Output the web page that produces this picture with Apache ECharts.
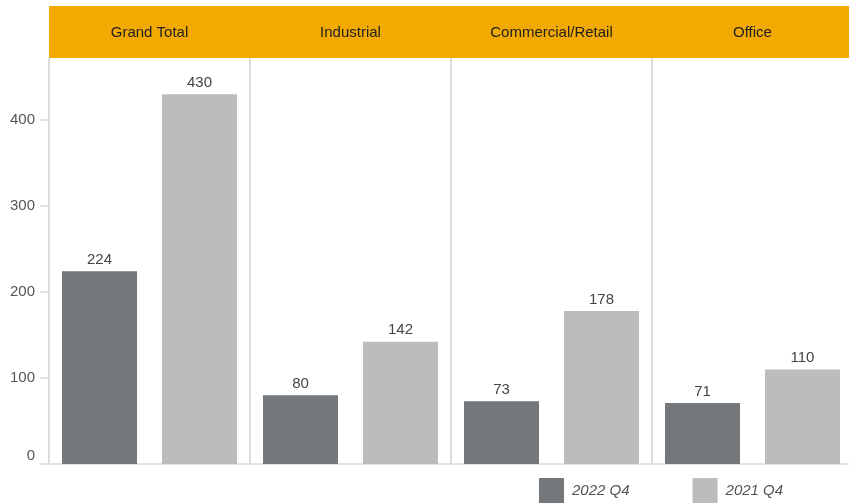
<!DOCTYPE html>
<html>
<head>
<meta charset="utf-8">
<script src="https://cdn.jsdelivr.net/npm/echarts@6/dist/echarts.min.js"></script>
<style>
html,body{margin:0;padding:0;background:#fff;}
#c{width:849px;height:503px;}
</style>
</head>
<body>
<div id="c"></div>
<script>
const categories = ['Grand Total', 'Industrial', 'Commercial/Retail', 'Office'];
const seriesNames = ['2022 Q4', '2021 Q4'];
const values2022 = [224, 80, 73, 71];
const values2021 = [430, 142, 178, 110];
const yTicks = [0, 100, 200, 300, 400];

const chart = echarts.init(document.getElementById('c'), null, {renderer: 'canvas'});
const font = 'Liberation Sans, Arial, sans-serif';
const labelStyle = {show: true, position: 'top', distance: 4, color: '#444', fontSize: 15, fontFamily: font};

chart.setOption({
  animation: false,
  backgroundColor: '#fff',
  graphic: [{
    type: 'rect', z: 0, silent: true,
    shape: {x: 49, y: 6, width: 800, height: 52},
    style: {fill: '#F2A900'}
  }],
  legend: {
    left: 539, top: 478, padding: 0,
    itemWidth: 25, itemHeight: 25, itemGap: 63,
    icon: 'rect',
    textStyle: {fontSize: 15, fontStyle: 'italic', color: '#555', fontFamily: font, padding: [0,0,0,3]},
    data: seriesNames
  },
  grid: {left: 49, top: 58, width: 804, bottom: 39, containLabel: false, outerBoundsMode: 'none'},
  xAxis: [{
    type: 'category', data: categories, position: 'bottom',
    axisLine: {show: true, lineStyle: {color: '#dcdcdc', width: 1.5}},
    axisTick: {show: false},
    axisLabel: {show: false},
    splitLine: {show: true, lineStyle: {color: '#dcdcdc', width: 2}}
  }, {
    type: 'category', data: categories, position: 'top',
    axisLine: {show: false}, axisTick: {show: false},
    axisLabel: {show: true, interval: 0, margin: 25, verticalAlign: 'middle', color: '#222', fontSize: 15, fontFamily: font},
    splitLine: {show: false}, z: 10
  }],
  yAxis: {
    type: 'value', min: 0, max: 472, interval: 100,
    axisLine: {show: true, lineStyle: {color: '#dcdcdc', width: 1.5}},
    axisTick: {show: true, length: 9, lineStyle: {color: '#dcdcdc', width: 1.5}, customValues: yTicks},
    axisLabel: {
      show: true, margin: 14, color: '#555', fontSize: 15, fontFamily: font,
      customValues: yTicks,
      formatter: v => v === 0 ? '{z|0}' : String(v),
      rich: {z: {fontSize: 15, color: '#555', fontFamily: font, padding: [0, 0, 16, 0]}}
    },
    splitLine: {show: false}
  },
  series: [{
    name: seriesNames[0], type: 'bar', xAxisIndex: 0, data: values2022,
    barWidth: 75, barGap: '33.3%',
    itemStyle: {color: '#75787b'}, label: labelStyle
  }, {
    name: seriesNames[1], type: 'bar', xAxisIndex: 0, data: values2021,
    barWidth: 75,
    itemStyle: {color: '#bbbcbc'}, label: labelStyle
  }]
});
</script>
</body>
</html>
